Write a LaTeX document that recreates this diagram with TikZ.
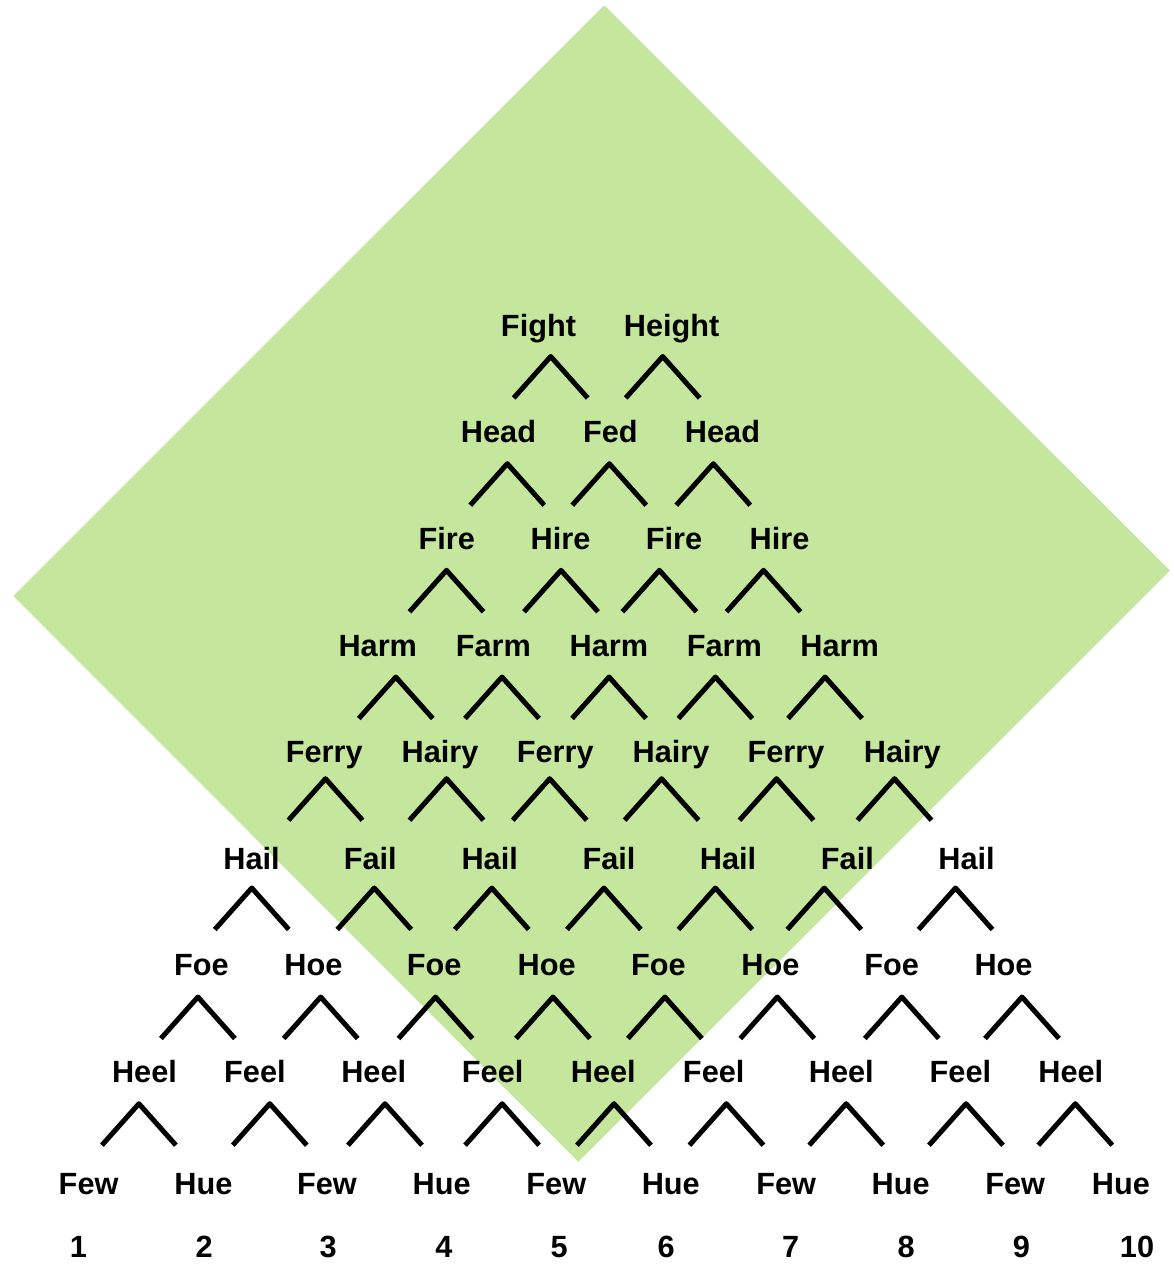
\documentclass[tikz,border=0pt]{standalone}
\usepackage{fontspec}
\setmainfont{Liberation Sans}
\definecolor{diamondgreen}{HTML}{C5E79D}
\begin{document}
\begin{tikzpicture}[x=1pt,y=-1pt,
  word/.style={font=\fontsize{30.7}{36}\selectfont\bfseries, anchor=base, inner sep=0pt},
  chevline/.style={line width=5pt, line join=round, line cap=butt, black},
  chevron/.pic={\draw[chevline] (-37,41.5) -- (0,0) -- (37,41.5);}]
\useasboundingbox (0,0) rectangle (1174,1264);
% green diamond
\fill[diamondgreen] (604.3,5.3) -- (1170,570.7) -- (578.3,1161.7) -- (13.3,596) -- cycle;
% words
\foreach \x/\t [count=\i] in {538.5/Fight, 671.7/Height}
  \node[word] (ra\i) at (\x,336) {\t};
\foreach \x/\t [count=\i] in {498.5/Head, 610.3/Fed, 722.5/Head}
  \node[word] (rb\i) at (\x,442.7) {\t};
\foreach \x/\t [count=\i] in {446.7/Fire, 560.5/Hire, 674/Fire, 779.5/Hire}
  \node[word] (rc\i) at (\x,549.3) {\t};
\foreach \x/\t [count=\i] in {377.8/Harm, 493.3/Farm, 608.9/Harm, 724.3/Farm, 839.6/Harm}
  \node[word] (rd\i) at (\x,656) {\t};
\foreach \x/\t [count=\i] in {324.2/Ferry, 440/Hairy, 555.3/Ferry, 671.1/Hairy, 786/Ferry, 902.3/Hairy}
  \node[word] (re\i) at (\x,762.7) {\t};
\foreach \x/\t [count=\i] in {251.6/Hail, 370.3/Fail, 489.7/Hail, 609/Fail, 728/Hail, 847.4/Fail, 966.6/Hail}
  \node[word] (rf\i) at (\x,869.3) {\t};
\foreach \x/\t [count=\i] in {201.5/Foe, 313.4/Hoe, 434.2/Foe, 546.7/Hoe, 658.5/Foe, 770.4/Hoe, 891.6/Foe, 1003.5/Hoe}
  \node[word] (rg\i) at (\x,975.7) {\t};
\foreach \x/\t [count=\i] in {144.5/Heel, 254.9/Feel, 373.7/Heel, 492.7/Feel, 603.3/Heel, 713.7/Feel, 841.3/Heel, 960.4/Feel, 1070.8/Heel}
  \node[word] (rh\i) at (\x,1082.3) {\t};
\foreach \x/\t [count=\i] in {88.6/Few, 203.4/Hue, 327/Few, 441.6/Hue, 556.3/Few, 670.8/Hue, 786.1/Few, 900.7/Hue, 1015.2/Few, 1120.9/Hue}
  \node[word] (ri\i) at (\x,1194) {\t};
\foreach \x/\t [count=\i] in {78.5/1, 204.2/2, 328.2/3, 444/4, 559.1/5, 666.1/6, 790.6/7, 906.1/8, 1021.4/9, 1137/10}
  \node[word] (num\i) at (\x,1257.7) {\t};
% chevrons
\foreach \x in {550.7, 662.7} \pic at (\x,356.5) {chevron};
\foreach \x in {507.3, 609.3, 713.3} \pic at (\x,463.7) {chevron};
\foreach \x in {446.5, 561, 659.4, 763.5} \pic at (\x,570.3) {chevron};
\foreach \x in {395.8, 502, 609.1, 715.4, 825.1} \pic at (\x,677) {chevron};
\foreach \x in {325.5, 446.5, 549.7, 661.6, 776.5, 894.5} \pic at (\x,778.7) {chevron};
\foreach \x in {251.8, 374.3, 491.8, 603.9, 715.4, 824.3, 955.5} \pic at (\x,888) {chevron};
\foreach \x in {197.9, 320.7, 435.5, 553, 664.9, 777.3, 901.8, 1022} \pic at (\x,997) {chevron};
\foreach \x in {138.9, 269.8, 385, 502.1, 614, 726.4, 846.2, 966, 1075.3} \pic at (\x,1103.7) {chevron};
\end{tikzpicture}
\end{document}
